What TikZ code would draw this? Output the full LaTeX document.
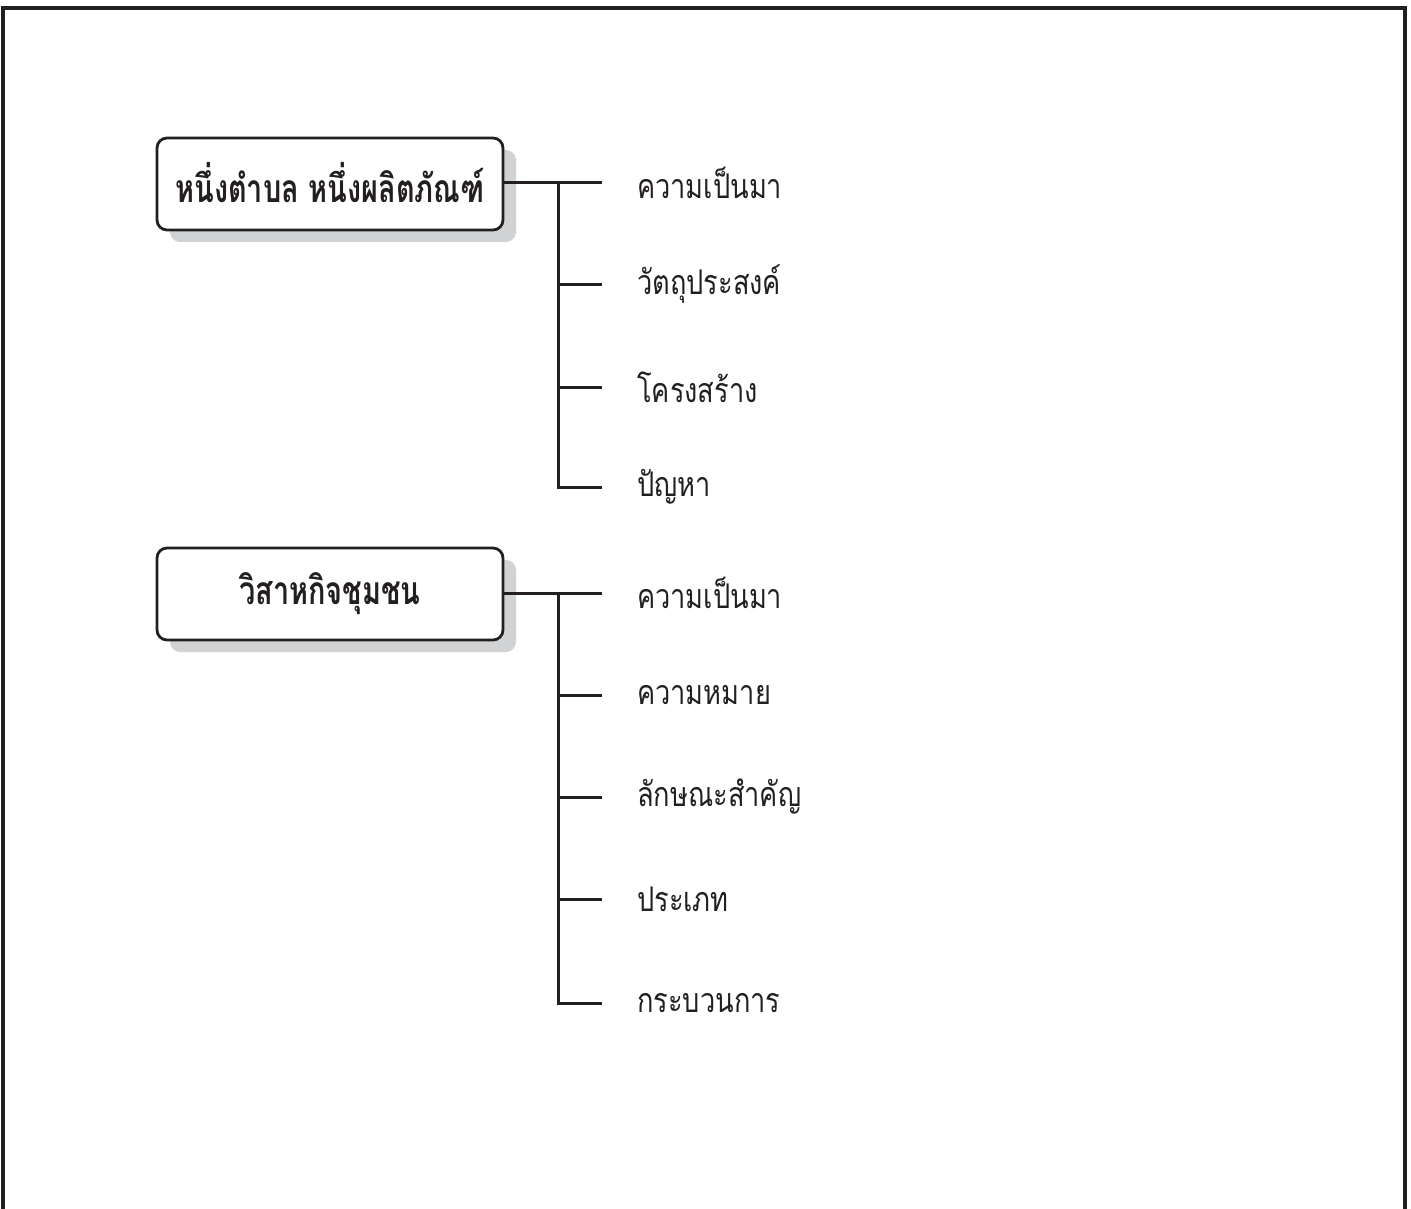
\documentclass[tikz,border=0pt]{standalone}
\usepackage{fontspec}
\newfontfamily\thai[Script=Thai, FakeStretch=0.8]{Loma}
\newfontfamily\thaibold[Script=Thai, FakeStretch=0.74, BoldFont={Loma Bold}]{Loma}
\usetikzlibrary{shadows}
\definecolor{ink}{HTML}{231F20}
\definecolor{shade}{HTML}{D1D2D4}
\tikzset{
  frameline/.style={draw=ink, line width=4},
  mainbox/.style={draw=ink, fill=white, line width=2.8, rounded corners=10,
    minimum width=346, minimum height=92, inner sep=0, font=\thaibold\bfseries\fontsize{39}{46}\selectfont,
    text=ink, drop shadow={shadow xshift=13pt, shadow yshift=-12pt, fill=shade, opacity=1}},
  leaf/.style={anchor=west, inner sep=0, text=ink, font=\thai\fontsize{34}{40}\selectfont},
  conn/.style={draw=ink, line width=3},
}
\begin{document}
\begin{tikzpicture}[x=1pt,y=-1pt]
\useasboundingbox (0,0) rectangle (1411,1209);
\draw[frameline] (3,1209) -- (3,8) -- (1405,8) -- (1405,1209);

% group 1
\node[mainbox] (b1) at (330,184) {\raisebox{3pt}{หนึ่งตำบล หนึ่งผลิตภัณฑ์}};
\coordinate (j1) at (558,183);
\foreach \i/\y/\t in {1/183/ความเป็นมา, 2/284/วัตถุประสงค์, 3/387/โครงสร้าง, 4/487/ปัญหา}{
  \coordinate (e1\i) at (602,\y);
  \node[leaf] (l1\i) at (637,\y) {\t};
}
\draw[conn] (b1.east |- j1) -- (e11);
\foreach \i in {2,3,4}{ \draw[conn] (j1) |- (e1\i); }

% group 2
\node[mainbox] (b2) at (330,594) {\raisebox{3pt}{วิสาหกิจชุมชน}};
\coordinate (j2) at (558,593);
\foreach \i/\y/\t in {1/593/ความเป็นมา, 2/695/ความหมาย, 3/797/ลักษณะสำคัญ, 4/899/ประเภท, 5/1003/กระบวนการ}{
  \coordinate (e2\i) at (602,\y);
  \node[leaf] (l2\i) at (637,\y) {\t};
}
\draw[conn] (b2.east |- j2) -- (e21);
\foreach \i in {2,3,4,5}{ \draw[conn] (j2) |- (e2\i); }
\end{tikzpicture}
\end{document}
